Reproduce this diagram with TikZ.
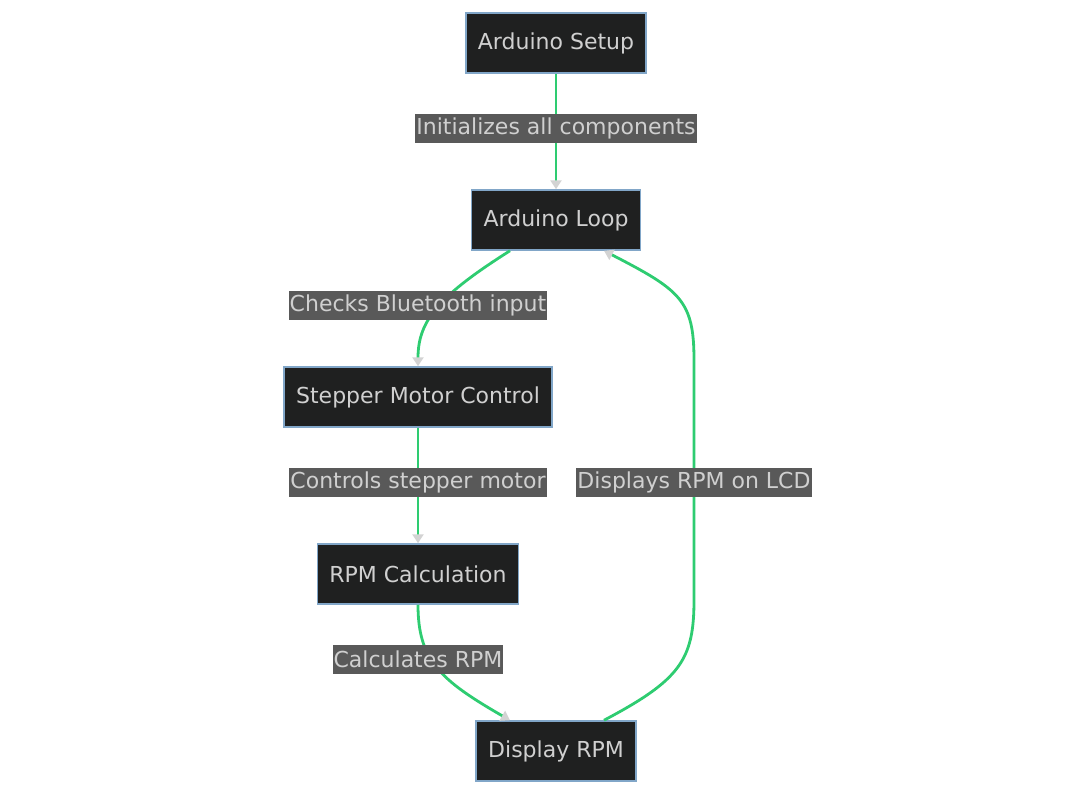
\documentclass[tikz,border=0pt]{standalone}
\usepackage{fontspec}
\setmainfont{DejaVu Sans}
\usetikzlibrary{arrows.meta}
\definecolor{boxfill}{HTML}{1F2020}
\definecolor{boxline}{HTML}{81A6C8}
\definecolor{boxtext}{HTML}{D0D0D0}
\definecolor{flow}{HTML}{2ECC71}
\definecolor{tipgray}{HTML}{D3D3D3}
\definecolor{labelbg}{HTML}{595959}
\begin{document}
\begin{tikzpicture}[x=1pt, y=-1pt,
	stage/.style={draw=boxline, fill=boxfill, text=boxtext, line width=1.5pt,
		minimum height=60pt, inner xsep=12pt, font=\fontsize{22}{26}\selectfont},
	edgelabel/.style={fill=labelbg, text=boxtext, inner xsep=1pt, inner ysep=0pt,
		minimum height=29pt, font=\fontsize{22}{26}\selectfont},
	flowline/.style={draw=flow, line width=2.8pt,
		-{Triangle[width=11pt, length=9pt, color=tipgray]}}]
	\useasboundingbox (0, 0) rectangle (1091, 795);

	\node[stage] (setup) at (556, 43) {Arduino Setup};
	\node[stage] (loop) at (556, 220) {Arduino Loop};
	\node[stage] (stepper) at (418, 397) {Stepper Motor Control};
	\node[stage] (rpm) at (418, 574) {RPM Calculation};
	\node[stage] (display) at (556, 751) {Display RPM};

	\draw[flowline] (setup) -- (loop);
	\draw[flowline] ([xshift=-46pt]loop.south) .. controls (440, 295) and (418, 320) .. (stepper.north);
	\draw[flowline] (stepper) -- (rpm);
	\draw[flowline] (rpm.south) .. controls (418, 660) and (440, 680) .. ([xshift=-46pt]display.north);
	\draw[flowline] ([xshift=48pt]display.north) .. controls (680, 680) and (694, 660) .. (694, 600)
		-- (694, 360) .. controls (694, 300) and (680, 290) .. ([xshift=48pt]loop.south);

	\node[edgelabel] (init) at (556, 128) {Initializes all components};
	\node[edgelabel] (checks) at (418, 305) {Checks Bluetooth input};
	\node[edgelabel] (controls) at (418, 482) {Controls stepper motor};
	\node[edgelabel] (calc) at (418, 659) {Calculates RPM};
	\node[edgelabel] (shows) at (694, 482) {Displays RPM on LCD};
\end{tikzpicture}
\end{document}
